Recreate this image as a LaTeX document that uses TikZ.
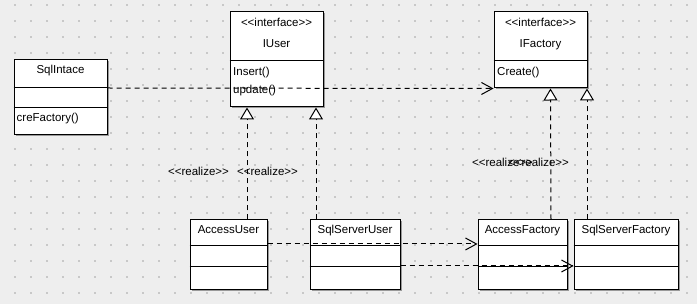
\documentclass[tikz,border=0pt]{standalone}
\usepackage{fontspec}
\setmainfont{Liberation Sans}
\usetikzlibrary{arrows.meta,shadows}
\definecolor{bg}{HTML}{EEEEEE}
\definecolor{gdot}{HTML}{C8C8C8}
\begin{document}
\begin{tikzpicture}[x=1pt,y=-1pt,
  box/.style={draw=black, fill=white, line width=1pt, inner sep=0pt,
    general shadow={shadow xshift=1.5pt, shadow yshift=-1.5pt, fill=black!40}},
  txt/.style={inner sep=0pt, font=\fontsize{11.5}{13}\selectfont},
  divider/.style={draw=black, line width=1pt},
  dep/.style={draw, line width=1pt, dash pattern=on 5pt off 4pt,
    -{Straight Barb[length=11pt,width=12pt]}},
  real/.style={draw, line width=1pt, dash pattern=on 5pt off 4pt,
    -{Triangle[length=12pt,width=14pt,fill=white]}}]
\fill[bg] (0,0) rectangle (697,304);
\useasboundingbox (0,0) rectangle (697,304);
\foreach \i in {0,...,42}{\foreach \j in {0,...,18}{
  \fill[gdot] (14+16*\i,4+16*\j) rectangle ++(2,2);}}
% boxes
\node[box, minimum width=93pt, minimum height=75pt] (sqlintace) at (60.5,97.5) {};
\node[box, minimum width=93pt, minimum height=95pt] (iuser) at (276.5,59.5) {};
\node[box, minimum width=93pt, minimum height=76pt] (ifactory) at (540.5,50) {};
\node[box, minimum width=77pt, minimum height=70pt] (auser) at (228.5,255) {};
\node[box, minimum width=90pt, minimum height=70pt] (suser) at (355,255) {};
\node[box, minimum width=89pt, minimum height=70pt] (afactory) at (522.5,255) {};
\node[box, minimum width=104pt, minimum height=70pt] (sfactory) at (626,255) {};
% dividers
\draw[divider] ([yshift=-28pt]sqlintace.north west) -- ([yshift=-28pt]sqlintace.north east);
\draw[divider] ([yshift=-48pt]sqlintace.north west) -- ([yshift=-48pt]sqlintace.north east);
\draw[divider] ([yshift=-49pt]iuser.north west) -- ([yshift=-49pt]iuser.north east);
\draw[divider] ([yshift=-49pt]ifactory.north west) -- ([yshift=-49pt]ifactory.north east);
\foreach \b in {auser,suser,afactory,sfactory}{
  \draw[divider] ([yshift=-26pt]\b.north west) -- ([yshift=-26pt]\b.north east);
  \draw[divider] ([yshift=-47pt]\b.north west) -- ([yshift=-47pt]\b.north east);}
% texts
\node[txt, anchor=base] (tsql) at (60.5,74) {SqlIntace};
\node[txt, anchor=base west] (tcre) at (16.5,122) {creFactory()};
\node[txt, anchor=base] (tiust) at (276.5,27) {<{}<interface>{}>};
\node[txt, anchor=base] (tiu) at (276.5,48) {IUser};
\node[txt, anchor=base west] (tins) at (233,76) {Insert()};
\node[txt, anchor=base west] (tupd) at (233,94) {update()};
\node[txt, anchor=base] (tifst) at (540.5,27) {<{}<interface>{}>};
\node[txt, anchor=base] (tif) at (540.5,48) {IFactory};
\node[txt, anchor=base west] (tcr) at (497,76) {Create()};
\node[txt, anchor=base] (tau) at (228.5,234) {AccessUser};
\node[txt, anchor=base] (tsu) at (355,234) {SqlServerUser};
\node[txt, anchor=base] (taf) at (522.5,234) {AccessFactory};
\node[txt, anchor=base] (tsf) at (626,234) {SqlServerFactory};
\node[txt, anchor=base] (rl1) at (198.5,176) {<{}<realize>{}>};
\node[txt, anchor=base] (rl2) at (267.5,176) {<{}<realize>{}>};
\node[txt, anchor=base] (rl3) at (502.5,167) {<{}<realize>{}>};
\node[txt, anchor=base] (rl4) at (538.5,167) {<{}<realize>{}>};
% connectors
\draw[dep] ([yshift=9.5pt]sqlintace.east) -- (ifactory.south west);
\draw[real] ([xshift=18.5pt]auser.north) -- ([xshift=-29.5pt]iuser.south);
\draw[real] ([xshift=-39pt]suser.north) -- ([xshift=39.5pt]iuser.south);
\draw[real] ([xshift=28.5pt]afactory.north) -- ([xshift=10pt]ifactory.south);
\draw[real] ([xshift=-39pt]sfactory.north) -- ([xshift=46.5pt]ifactory.south);
\draw[dep] ([yshift=11pt]auser.east) -- ([yshift=11pt]afactory.west);
\draw[dep] ([yshift=-11pt]suser.east) -- ([yshift=-11pt]sfactory.west);
\end{tikzpicture}
\end{document}
